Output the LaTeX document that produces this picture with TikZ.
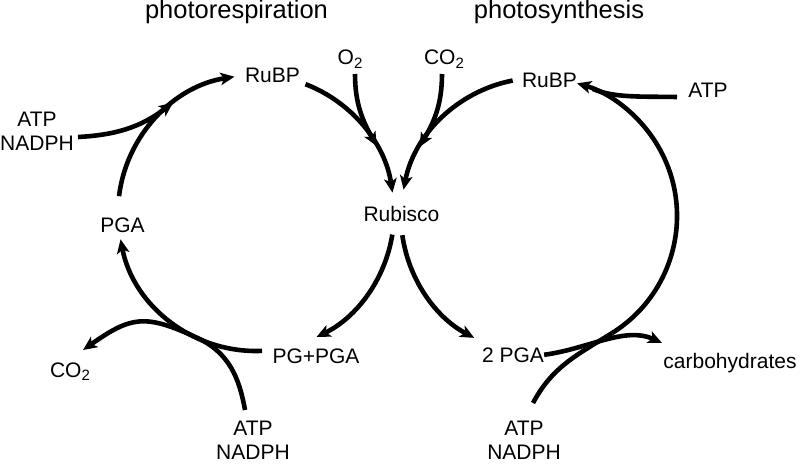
\documentclass[tikz,border=0pt]{standalone}
\usepackage{fontspec}
\setmainfont{Liberation Sans}
\usetikzlibrary{arrows.meta,calc}
\newcommand\mysub[1]{\raisebox{-0.32ex}{\fontsize{15}{15}\selectfont #1}}
\begin{document}
\begin{tikzpicture}[x=1pt,y=1pt,
  lbl/.style={font=\fontsize{21}{24}\selectfont, inner sep=0pt, align=center},
  ttl/.style={font=\fontsize{25.5}{30}\selectfont, inner sep=0pt},
  flow/.style={line width=4.6pt, -{Stealth[length=14pt,width=12.5pt,inset=3.5pt]}},
  feed/.style={line width=4.6pt}]
\useasboundingbox (0,0) rectangle (800,464);
% circle centres
\coordinate (cL) at (256,251);
\coordinate (cR) at (539,248);
% titles
\node[ttl, anchor=base] (tPR) at (236.5,445) {photorespiration};
\node[ttl, anchor=base] (tPS) at (559,445) {photosynthesis};
% labels
\node[lbl, anchor=base] (rubpL) at (272.5,381) {RuBP};
\node[lbl, anchor=base] (rubpR) at (549.5,376) {RuBP};
\node[lbl, anchor=base] (oxy) at (350,399) {O\mysub{2}};
\node[lbl, anchor=base] (co2T) at (444,399) {CO\mysub{2}};
\node[lbl, anchor=base] (atpTR) at (708,366) {ATP};
\node[lbl] (atpTL) at (37,332.5) {ATP\\NADPH};
\node[lbl, anchor=base] (pga) at (122.5,232) {PGA};
\node[lbl, anchor=base] (rubisco) at (401.5,242) {Rubisco};
\node[lbl, anchor=base] (pgpga) at (316,101) {PG+PGA};
\node[lbl, anchor=base] (co2B) at (70,87) {CO\mysub{2}};
\node[lbl] (atpBL) at (253,23.5) {ATP\\NADPH};
\node[lbl, anchor=base] (pga2) at (513,102) {2 PGA};
\node[lbl, anchor=base] (carb) at (730,96) {carbohydrates};
\node[lbl] (atpBR) at (524,23.5) {ATP\\NADPH};
% points on the circles
\coordinate (a1s) at ($(cL)+(173:138)$);
\coordinate (a2s) at ($(cL)+(69:138)$);
\coordinate (a3s) at ($(cL)+(-9:138)$);
\coordinate (a4s) at ($(cL)+(272.5:138)$);
\coordinate (b1s) at ($(cR)+(101:138)$);
\coordinate (b2s) at ($(cR)+(188:138)$);
\coordinate (m1) at ($(cL)+(127:138)$);
\coordinate (m2) at ($(cL)+(29:138)$);
\coordinate (m3) at ($(cR)+(150:138)$);
\coordinate (m4) at ($(cR)+(67:138)$);
\coordinate (m5) at ($(cL)+(245:138)$);
\coordinate (m6) at ($(cR)+(-58:138)$);
% free ends
\coordinate (s1) at (78,327);
\coordinate (s2) at (355,390);
\coordinate (s3) at (442,390);
\coordinate (s4) at (677,367);
\coordinate (s5) at (245,54);
\coordinate (s6) at (533,61);
\coordinate (e1) at (83,114);
\coordinate (e2) at (662,121);
% photorespiration cycle
\draw[flow] (a1s) arc[start angle=173, end angle=99, radius=138];
\draw[flow] (a2s) arc[start angle=69, end angle=8.5, radius=138];
\draw[flow] (a3s) arc[start angle=-9, end angle=-64, radius=138];
\draw[flow] (a4s) arc[start angle=272.5, end angle=191, radius=138];
\draw[flow] (s1) to[out=3, in=217] (m1);
\draw[flow] (s2) to[out=-90, in=119] (m2);
\draw[feed] (s5) to[out=100, in=-25] (m5);
\draw[flow] (m5) to[out=155, in=35, looseness=1.3] (e1);
% photosynthesis cycle
\draw[flow] (b1s) arc[start angle=101, end angle=169, radius=138];
\draw[flow] (b2s) arc[start angle=188, end angle=242, radius=138];
\draw[flow] (m6) arc[start angle=-58, end angle=74, radius=138];
\draw[flow] (s3) to[out=-90, in=60] (m3);
\draw[feed] (s4) to[out=179, in=-23, out looseness=1.1, in looseness=0.7] (m4);
\draw[feed] (s6) to[out=62, in=212] (m6);
\draw[flow] (pga2.east) .. controls (588,115) and (625,138) .. (e2);
\end{tikzpicture}
\end{document}
